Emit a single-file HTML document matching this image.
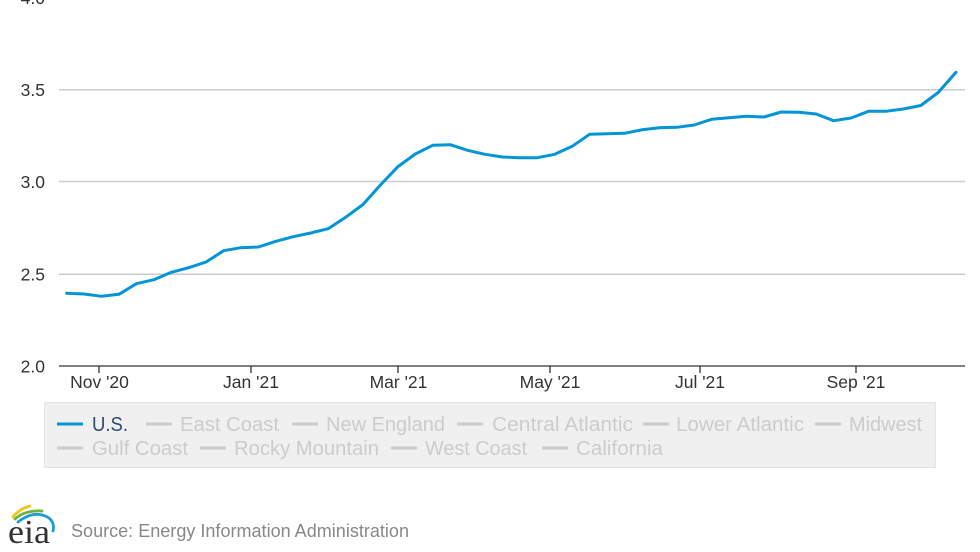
<!DOCTYPE html>
<html>
<head>
<meta charset="utf-8">
<style>
  html, body { margin: 0; padding: 0; background: #ffffff; }
  body { width: 980px; height: 552px; overflow: hidden; }
  svg { display: block; font-family: "Liberation Sans", Arial, sans-serif; }
</style>
</head>
<body>
<svg width="980" height="552" viewBox="0 0 980 552" xmlns="http://www.w3.org/2000/svg">
  <rect x="0" y="0" width="980" height="552" fill="#ffffff"/>

  <!-- gridlines -->
  <g stroke="#cccccc" stroke-width="1.5">
    <line x1="59" y1="-2" x2="965" y2="-2"/>
    <line x1="59" y1="89.8" x2="965" y2="89.8"/>
    <line x1="59" y1="181.5" x2="965" y2="181.5"/>
    <line x1="59" y1="274.3" x2="965" y2="274.3"/>
  </g>

  <!-- y labels -->
  <g font-size="17.5" fill="#333333" text-anchor="end">
    <text x="45" y="4">4.0</text>
    <text x="45" y="96">3.5</text>
    <text x="45" y="188">3.0</text>
    <text x="45" y="280.5">2.5</text>
    <text x="45" y="372.5">2.0</text>
  </g>

  <!-- x axis -->
  <line x1="59" y1="366" x2="965" y2="366" stroke="#333333" stroke-width="1.3"/>
  <g stroke="#333333" stroke-width="1.3">
    <line x1="99" y1="366" x2="99" y2="373"/>
    <line x1="251" y1="366" x2="251" y2="373"/>
    <line x1="398" y1="366" x2="398" y2="373"/>
    <line x1="550" y1="366" x2="550" y2="373"/>
    <line x1="700" y1="366" x2="700" y2="373"/>
    <line x1="856" y1="366" x2="856" y2="373"/>
  </g>
  <g font-size="17.5" fill="#333333" text-anchor="middle">
    <text x="99.5" y="388">Nov '20</text>
    <text x="251" y="388">Jan '21</text>
    <text x="398.5" y="388">Mar '21</text>
    <text x="550" y="388">May '21</text>
    <text x="700" y="388">Jul '21</text>
    <text x="856" y="388">Sep '21</text>
  </g>

  <!-- series -->
  <polyline fill="none" stroke="#0096d6" stroke-width="3" stroke-linejoin="round" stroke-linecap="round"
    points="66.7,293.3 84.1,294 101.6,296.3 119,294.3 136.4,283.7 153.9,279.7 171.3,272.3 188.7,267.7 206.1,262 223.6,250.7 241,247.7 258.4,247 275.9,241.3 293.3,236.7 310.7,233 328.2,228.7 345.6,217.3 363,204.5 380.4,185 397.9,166.7 415.3,154 432.7,145.3 450.2,144.7 467.6,150.3 485,154.3 502.5,157 519.9,157.7 537.3,157.7 554.7,154.3 572.2,146.3 589.6,134.3 607,133.7 624.5,133.3 641.9,129.8 659.3,127.7 676.8,127.3 694.2,125 711.6,119.3 729,117.7 746.5,116.3 763.9,117 781.3,112 798.8,112.3 816.2,114 833.6,120.7 851.1,118 868.5,111.3 885.9,111.3 903.3,109 920.8,105.5 938.2,92.5 956,72.3"/>

  <!-- legend -->
  <rect x="44.5" y="402.5" width="891" height="65" fill="#f0f0f0" stroke="#e4e4e4" stroke-width="1"/>
  <g font-size="20">
    <line x1="57" y1="424" x2="83" y2="424" stroke="#0096d6" stroke-width="3"/>
    <text x="92" y="431" fill="#2f4a6d" textLength="36" lengthAdjust="spacingAndGlyphs">U.S.</text>

    <g stroke="#cccccc" stroke-width="3">
      <line x1="146" y1="424" x2="172" y2="424"/>
      <line x1="292" y1="424" x2="318" y2="424"/>
      <line x1="457" y1="424" x2="483" y2="424"/>
      <line x1="643" y1="424" x2="669" y2="424"/>
      <line x1="815" y1="424" x2="841" y2="424"/>
      <line x1="57" y1="448" x2="83" y2="448"/>
      <line x1="200" y1="448" x2="226" y2="448"/>
      <line x1="391" y1="448" x2="417" y2="448"/>
      <line x1="542" y1="448" x2="568" y2="448"/>
    </g>
    <g fill="#cccccc">
      <text x="180" y="431" textLength="99" lengthAdjust="spacingAndGlyphs">East Coast</text>
      <text x="326" y="431" textLength="119" lengthAdjust="spacingAndGlyphs">New England</text>
      <text x="492" y="431" textLength="141" lengthAdjust="spacingAndGlyphs">Central Atlantic</text>
      <text x="676" y="431" textLength="128" lengthAdjust="spacingAndGlyphs">Lower Atlantic</text>
      <text x="849" y="431" textLength="73" lengthAdjust="spacingAndGlyphs">Midwest</text>
      <text x="92" y="455" textLength="96" lengthAdjust="spacingAndGlyphs">Gulf Coast</text>
      <text x="234" y="455" textLength="145" lengthAdjust="spacingAndGlyphs">Rocky Mountain</text>
      <text x="425" y="455" textLength="102" lengthAdjust="spacingAndGlyphs">West Coast</text>
      <text x="576" y="455" textLength="87" lengthAdjust="spacingAndGlyphs">California</text>
    </g>
  </g>

  <!-- eia logo -->
  <g fill="none" stroke-linecap="round">
    <path d="M13,517 Q19,509 30,506" stroke="#f2c417" stroke-width="2.8"/>
    <path d="M15,519 Q25,510 42,511" stroke="#6db33f" stroke-width="2.8"/>
    <path d="M18,522 Q35,509 49,518 Q55,523 53,531" stroke="#1f9bd7" stroke-width="2.8"/>
  </g>
  <text x="8" y="543" font-family="Liberation Serif, serif" font-size="34" fill="#333333" textLength="42" lengthAdjust="spacingAndGlyphs">eia</text>

  <text x="71" y="537" font-size="18" fill="#888888" textLength="338" lengthAdjust="spacingAndGlyphs">Source: Energy Information Administration</text>
</svg>
</body>
</html>
